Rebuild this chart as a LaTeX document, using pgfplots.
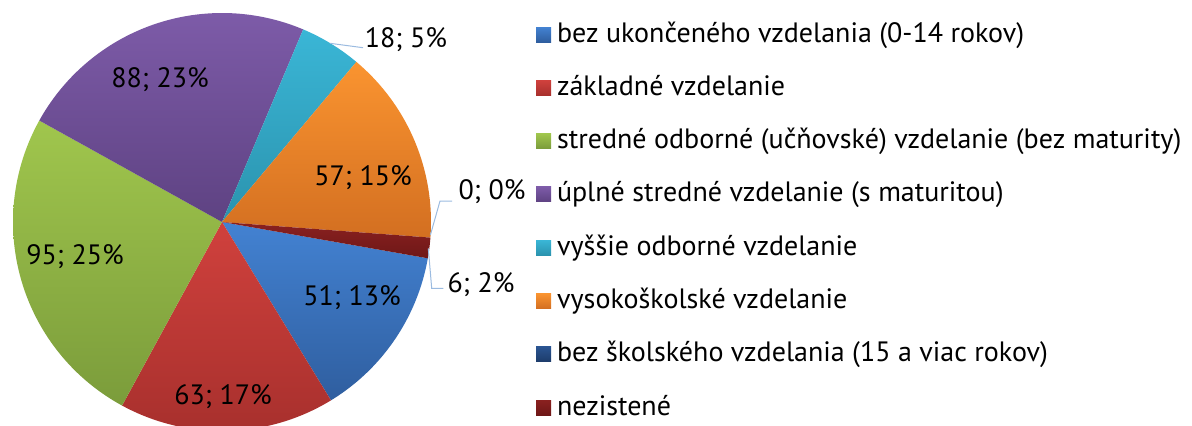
\documentclass[border=0pt]{standalone}
\usepackage{pgfplots}
\usepackage{pgfplotstable}
\pgfplotsset{compat=1.18}
\usepackage{fontspec}
\setmainfont{PT Sans}

\pgfplotstableread{
value
51
63
95
88
18
57
0
6
}\pietable

\newcommand\startangle{-10}
\def\cum{0}\def\total{0}
\pgfplotsforeachungrouped \i in {0,...,7}{%
  \pgfplotstablegetelem{\i}{value}\of\pietable
  \pgfmathsetmacro\total{\total+\pgfplotsretval}}
\pgfplotsforeachungrouped \i in {0,...,7}{%
  \pgfplotstablegetelem{\i}{value}\of\pietable
  \pgfmathsetmacro\tmpa{\startangle-360*(\cum/\total)}%
  \pgfmathsetmacro\cum{\cum+\pgfplotsretval}%
  \pgfmathsetmacro\tmpb{\startangle-360*(\cum/\total)}%
  \expandafter\let\csname sa\i\endcsname\tmpa
  \expandafter\let\csname sb\i\endcsname\tmpb}

\newcommand\pieslice[2]{%
  \edef\doslice{\noexpand\addplot[#2, draw=none, domain=\csname sb#1\endcsname:\csname sa#1\endcsname, samples=90, variable=\noexpand\t] ({222+209*cos(\noexpand\t)},{203+209*sin(\noexpand\t)}) -- (axis cs:222,203) -- cycle;}%
  \doslice}

\tikzset{
  pblue/.style={top color={rgb,255:red,67;green,130;blue,210}, bottom color={rgb,255:red,47;green,94;blue,159}},
  pred/.style={top color={rgb,255:red,208;green,65;blue,61}, bottom color={rgb,255:red,168;green,48;blue,45}},
  pgreen/.style={top color={rgb,255:red,160;green,198;blue,77}, bottom color={rgb,255:red,123;green,156;blue,59}},
  ppurple/.style={top color={rgb,255:red,125;green,91;blue,168}, bottom color={rgb,255:red,94;green,66;blue,130}},
  pcyan/.style={top color={rgb,255:red,58;green,182;blue,214}, bottom color={rgb,255:red,43;green,147;blue,174}},
  porange/.style={top color={rgb,255:red,250;green,148;blue,48}, bottom color={rgb,255:red,211;green,111;blue,33}},
  pdblue/.style={top color={rgb,255:red,42;green,84;blue,145}, bottom color={rgb,255:red,29;green,60;blue,106}},
  pdred/.style={top color={rgb,255:red,138;green,33;blue,32}, bottom color={rgb,255:red,110;green,23;blue,23}},
}
\definecolor{leader}{RGB}{155,187,224}

\begin{document}
\begin{tikzpicture}[font=\fontsize{28bp}{32bp}\selectfont]
\begin{axis}[
  x=1bp, y=1bp,
  xmin=0, xmax=1192, ymin=0, ymax=425,
  hide axis,
  clip=true,
  legend cell align=left,
  legend image code/.code={\fill[#1, draw=none] (0bp,0bp) rectangle (15bp,15bp);},
  legend style={at={(axis cs:536,403)}, anchor=north west, draw=none, fill=none,
    inner sep=0pt, outer sep=0pt, row sep=27.3bp, column sep=6bp,
    nodes={inner sep=0pt, outer sep=0pt, text height=20bp, text depth=6bp, anchor=base west},
    font=\fontsize{28bp}{32bp}\selectfont},
]
\pieslice{0}{pblue}
\addlegendentry{bez ukončeného vzdelania (0-14 rokov)}
\pieslice{1}{pred}
\addlegendentry{základné vzdelanie}
\pieslice{2}{pgreen}
\addlegendentry{stredné odborné (učňovské) vzdelanie (bez maturity)}
\pieslice{3}{ppurple}
\addlegendentry{úplné stredné vzdelanie (s maturitou)}
\pieslice{4}{pcyan}
\addlegendentry{vyššie odborné vzdelanie}
\pieslice{5}{porange}
\addlegendentry{vysokoškolské vzdelanie}
\addlegendimage{pdblue}
\addlegendentry{bez školského vzdelania (15 a viac rokov)}
\pieslice{7}{pdred}
\addlegendentry{nezistené}

\addplot[forget plot, color=leader, line width=1bp] coordinates {(330,381.7) (363,377.3)};
\addplot[forget plot, color=leader, line width=1bp] coordinates {(430.4,190) (440,224) (452,224)};
\addplot[forget plot, color=leader, line width=1bp] coordinates {(428.3,176.7) (431.7,136.7) (443.3,136.7)};

\node at (axis cs:160,345) {88; 23\%};
\node at (axis cs:363,247) {57; 15\%};
\node at (axis cs:75,168) {95; 25\%};
\node at (axis cs:223,28) {63; 17\%};
\node at (axis cs:352,127) {51; 13\%};
\node at (axis cs:406,385) {18; 5\%};
\node at (axis cs:492,233) {0; 0\%};
\node at (axis cs:481,140) {6; 2\%};
\end{axis}
\pgfresetboundingbox
\path[use as bounding box] (current axis.south west) rectangle (current axis.north east);
\end{tikzpicture}
\end{document}
